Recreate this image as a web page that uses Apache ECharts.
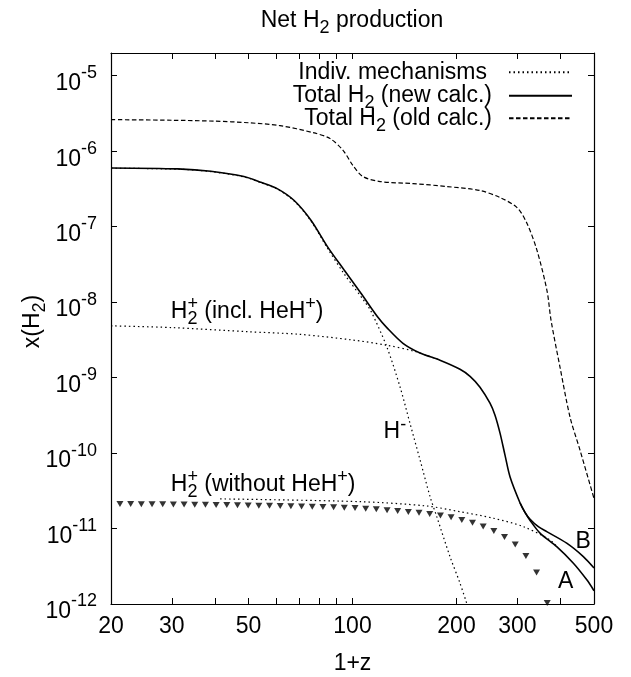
<!DOCTYPE html>
<html><head><meta charset="utf-8">
<script src="https://cdn.jsdelivr.net/npm/echarts@6/dist/echarts.min.js"></script>
<style>html,body{margin:0;padding:0;background:#fff}#c{width:631px;height:677px}</style>
</head><body><div id="c"></div>
<script>
const FONT = '"Liberation Sans", Arial, Helvetica, sans-serif';

// ---- data (1+z, x(H2)) ----
const oldCalcZ = [20, 30, 40, 50, 61.7, 76.9, 86.1, 94, 100.3, 107.2, 120.2, 149.7, 187.8, 233.9, 267.3, 299.4, 320, 342, 365.7, 375.5, 398.7, 426.2, 455.3, 500];
const oldCalcX = [2.62e-6, 2.57e-6, 2.5e-6, 2.38e-6, 2.18e-6, 1.76e-6, 1.47e-6, 1.02e-6, 6.45e-7, 4.61e-7, 3.96e-7, 3.72e-7, 3.40e-7, 3.01e-7, 2.43e-7, 1.79e-7, 1.10e-7, 4.84e-8, 1.4e-8, 5.76e-9, 1.37e-9, 2.99e-10, 1.10e-10, 2.5e-11];

const newCalcZ = [20, 31.2, 38.9, 48.5, 54.3, 60.7, 67.8, 75.9, 84.8, 94.7, 105.8, 118.3, 125.7, 140.0, 156.8, 179.1, 204.7, 218.9, 233.9, 250.0, 258.5, 267.3, 276.3, 285.8, 305.5, 315.6, 326.6, 345, 364.9, 416.8, 465.7, 500];
const newCalcX = [6.0e-7, 5.83e-7, 5.42e-7, 4.61e-7, 3.88e-7, 3.17e-7, 2.22e-7, 1.21e-7, 5.36e-8, 2.64e-8, 1.31e-8, 6.35e-9, 4.6e-9, 2.85e-9, 2.12e-9, 1.70e-9, 1.29e-9, 1.04e-9, 7.47e-10, 4.58e-10, 3.18e-10, 1.84e-10, 9.4e-11, 4.82e-11, 2.18e-11, 1.64e-11, 1.33e-11, 1.06e-11, 9.1e-12, 6.4e-12, 4.25e-12, 3.0e-12];

const newCalcAZ = [305.5, 315.6, 326.6, 348.9, 390, 435.8, 476.6, 500];
const newCalcAX = [2.18e-11, 1.64e-11, 1.28e-11, 8.7e-12, 5.75e-12, 3.47e-12, 2.09e-12, 1.5e-12];

const hMinusZ = [20, 31.2, 38.9, 48.5, 54.3, 60.7, 67.8, 75.9, 84.8, 94.7, 108.7, 113.1, 125.7, 137.3, 146.7, 156.9, 167.7, 175.3, 191.5, 204.7, 214.4];
const hMinusX = [5.95e-7, 5.78e-7, 5.37e-7, 4.56e-7, 3.84e-7, 3.13e-7, 2.18e-7, 1.18e-7, 5.1e-8, 2.35e-8, 1.0e-8, 7.6e-9, 2.55e-9, 7.5e-10, 2.47e-10, 8.07e-11, 2.64e-11, 1.44e-11, 4.25e-12, 1.89e-12, 1.0e-12];

const h2pInclZ = [20, 30, 50, 70, 100, 125, 150, 165, 180];
const h2pInclX = [4.85e-9, 4.6e-9, 4.05e-9, 3.75e-9, 3.15e-9, 2.7e-9, 2.25e-9, 1.95e-9, 1.69e-9];

const h2pWoZ = [41.4, 105.1, 163.9, 204.7, 255.8, 312.2, 373, 390];
const h2pWoX = [2.47e-11, 2.27e-11, 1.99e-11, 1.67e-11, 1.37e-11, 1.06e-11, 7.06e-12, 5.8e-12];

const triZ = [21.23, 22.80, 24.48, 26.29, 28.23, 30.31, 32.55, 34.95, 37.53, 40.30, 43.27, 46.46, 49.89, 53.57, 57.52, 61.77, 66.32, 71.22, 76.47, 82.11, 88.17, 94.68, 101.7, 109.2, 117.2, 125.9, 135.1, 145.1, 155.8, 167.3, 179.7, 192.9, 207.2, 222.5, 238.9, 256.5, 275.4, 295.8, 317.6, 341.0, 366.1];
const triX = [2.115e-11, 2.109e-11, 2.103e-11, 2.096e-11, 2.090e-11, 2.083e-11, 2.077e-11, 2.071e-11, 2.061e-11, 2.052e-11, 2.043e-11, 2.033e-11, 2.021e-11, 2.009e-11, 1.997e-11, 1.984e-11, 1.972e-11, 1.957e-11, 1.942e-11, 1.928e-11, 1.913e-11, 1.890e-11, 1.867e-11, 1.833e-11, 1.800e-11, 1.746e-11, 1.709e-11, 1.658e-11, 1.618e-11, 1.560e-11, 1.486e-11, 1.411e-11, 1.299e-11, 1.197e-11, 1.066e-11, 9.30e-12, 7.74e-12, 6.16e-12, 4.34e-12, 2.61e-12, 1.03e-12];

// ---- axes ticks ----
const xTickLabels = [20, 30, 50, 100, 200, 300, 500];
const xTickMarks = [20, 30, 40, 50, 60, 70, 80, 90, 100, 200, 300, 400, 500];
const yTickValues = [1e-12, 1e-11, 1e-10, 1e-9, 1e-8, 1e-7, 1e-6, 1e-5];

// ---- texts ----
const legendNames = ['Indiv. mechanisms', 'Total H2 (new calc.)', 'Total H2 (old calc.)'];
const legendLabels = ['{n|Indiv. mechanisms}{s| }', '{n|Total H}{s|2}{n| (new calc.)}', '{n|Total H}{s|2}{n| (old calc.)}'];

const plotLabels = [
  {parts: [{t: 'H'}, {sub: '2', sup: '+'}, {t: ' (incl. HeH'}, {sup: '+'}, {t: ')'}], at: [29.8, 5.86e-9]},
  {parts: [{t: 'H'}, {sup: '-'}], at: [123.0, 1.49e-10]},
  {parts: [{t: 'H'}, {sub: '2', sup: '+'}, {t: ' (without HeH'}, {sup: '+'}, {t: ')'}], at: [29.8, 3.0e-11]},
  {parts: [{t: 'B'}], at: [442, 5.21e-12]},
  {parts: [{t: 'A'}], at: [393.3, 1.54e-12]}
];

function pairs(zs, xs) { return zs.map((z, i) => [z, xs[i]]); }

const rich = {
  n: {fontFamily: FONT, fontSize: 23, lineHeight: 23, color: '#000', verticalAlign: 'top'},
  s: {fontFamily: FONT, fontSize: 18, lineHeight: 18, color: '#000', verticalAlign: 'top', padding: [10, 0, 0, 0]}
};
const tickRich = {
  b: {fontFamily: FONT, fontSize: 23, lineHeight: 23, color: '#000', verticalAlign: 'top', padding: [8, 0, 0, 0]},
  e: {fontFamily: FONT, fontSize: 18, lineHeight: 18, color: '#000', verticalAlign: 'top'}
};

const axisLine = {show: true, onZero: false, lineStyle: {color: '#000', width: 1.2}};
function tick(vals) { return {show: true, inside: true, length: 6, customValues: vals, lineStyle: {color: '#000', width: 1}}; }

const xBase = {type: 'log', logBase: 10, min: 20, max: 500, gridIndex: 0, splitLine: {show: false}, minorTick: {show: false}, axisLine: axisLine};
const yBase = {type: 'log', logBase: 10, min: 1e-12, max: 2e-5, gridIndex: 0, splitLine: {show: false}, minorTick: {show: false}, axisLine: axisLine};

function lineSeries(name, zs, xs, style, z) {
  return {
    type: 'line', name: name, xAxisIndex: 0, yAxisIndex: 0, data: pairs(zs, xs),
    symbol: 'none', smooth: 0.3, clip: true, z: z,
    lineStyle: Object.assign({color: '#000'}, style), itemStyle: {color: '#000'},
    emphasis: {disabled: true}
  };
}
const DOT = {width: 1.2, type: [1.5, 3]};
const DASH = {width: 1.2, type: [4.5, 2.5]};
const SOLID = {width: 1.6, type: 'solid'};

const legendRowY = [70.7, 94.3, 116.7];
const legends = legendNames.map((nm, i) => ({
  data: [nm], orient: 'vertical', right: 58, top: legendRowY[i] - 10,
  align: 'right', itemWidth: 63, itemHeight: 10, padding: 0, selectedMode: false,
  itemStyle: {color: 'rgba(0,0,0,0)', borderColor: 'rgba(0,0,0,0)', borderWidth: 0, opacity: 0},
  formatter: () => legendLabels[i],
  textStyle: {fontFamily: FONT, fontSize: 23, color: '#000', padding: [0, 12, 0, 0], rich: rich}
}));

const chart = echarts.init(document.getElementById('c'));
chart.setOption({
  animation: false,
  backgroundColor: '#fff',
  title: {
    text: '{n|Net H}{s|2}{n| production}', left: 352, top: 9, padding: 0, textAlign: 'center',
    textStyle: {rich: rich, fontFamily: FONT, fontSize: 23, fontWeight: 'normal', color: '#000'}
  },
  legend: legends,
  grid: {left: 111, right: 37, top: 53, bottom: 73, containLabel: false, outerBoundsMode: 'none'},
  xAxis: [
    Object.assign({}, xBase, {
      position: 'bottom', axisTick: tick(xTickMarks),
      axisLabel: {customValues: xTickLabels, formatter: v => String(Math.round(v)), margin: 11, fontFamily: FONT, fontSize: 23, color: '#000'},
      name: '1+z', nameLocation: 'middle', nameGap: 48, nameMoveOverlap: false,
      nameTextStyle: {fontFamily: FONT, fontSize: 23, color: '#000'}
    }),
    Object.assign({}, xBase, {position: 'top', axisTick: tick(xTickMarks), axisLabel: {show: false}})
  ],
  yAxis: [
    Object.assign({}, yBase, {
      position: 'left', axisTick: tick(yTickValues),
      axisLabel: {customValues: yTickValues, margin: 14, formatter: v => '{b|10}{e|' + Math.round(Math.log10(v)) + '}', rich: tickRich},
      name: '{n|x(H}{s|2}{n|)}', nameLocation: 'middle', nameGap: 67, nameMoveOverlap: false,
      nameTextStyle: {rich: rich, fontFamily: FONT, fontSize: 23, color: '#000', padding: [0, 0, 0, 14]}
    }),
    Object.assign({}, yBase, {position: 'right', axisTick: tick(yTickValues), axisLabel: {show: false}})
  ],
  series: [
    lineSeries('Indiv. mechanisms', hMinusZ, hMinusX, DOT, 2),
    lineSeries('Indiv. mechanisms', h2pInclZ, h2pInclX, DOT, 2),
    lineSeries('Indiv. mechanisms', h2pWoZ, h2pWoX, DOT, 2),
    lineSeries('Total H2 (new calc.)', newCalcZ, newCalcX, SOLID, 3),
    lineSeries('Total H2 (new calc.)', newCalcAZ, newCalcAX, SOLID, 3),
    lineSeries('Total H2 (old calc.)', oldCalcZ, oldCalcX, DASH, 3),
    {
      type: 'scatter', name: 'A points', xAxisIndex: 0, yAxisIndex: 0, data: pairs(triZ, triX),
      symbol: 'triangle', symbolRotate: 180, symbolSize: [7, 6], itemStyle: {color: '#000'},
      emphasis: {disabled: true}, z: 4
    }
  ]
});

// ---- in-plot labels (anchored in data coordinates) ----
const BASE = 23, SMALL = 18, SUB_DY = 6, SUP_DY = -9;
const mctx = document.createElement('canvas').getContext('2d');
function measure(t, size) { mctx.font = size + 'px ' + FONT; return mctx.measureText(t).width; }
function textEl(t, x, baseline, size) {
  return {type: 'text', silent: true, z: 10, style: {text: t, x: x, y: baseline - 0.3465 * size, fontFamily: FONT, fontSize: size, fill: '#000', align: 'left', verticalAlign: 'middle'}};
}
const graphics = [];
plotLabels.forEach(lb => {
  const p = chart.convertToPixel({gridIndex: 0}, lb.at);
  let x = p[0];
  const base = p[1];
  lb.parts.forEach(part => {
    let w = 0;
    if (part.t) { graphics.push(textEl(part.t, x, base, BASE)); w = measure(part.t, BASE); }
    if (part.sub) { graphics.push(textEl(part.sub, x, base + SUB_DY, SMALL)); w = Math.max(w, measure(part.sub, SMALL)); }
    if (part.sup) { graphics.push(textEl(part.sup, x, base + SUP_DY, SMALL)); w = Math.max(w, measure(part.sup, SMALL)); }
    x += w;
  });
});
chart.setOption({graphic: graphics});
</script>
</body></html>
